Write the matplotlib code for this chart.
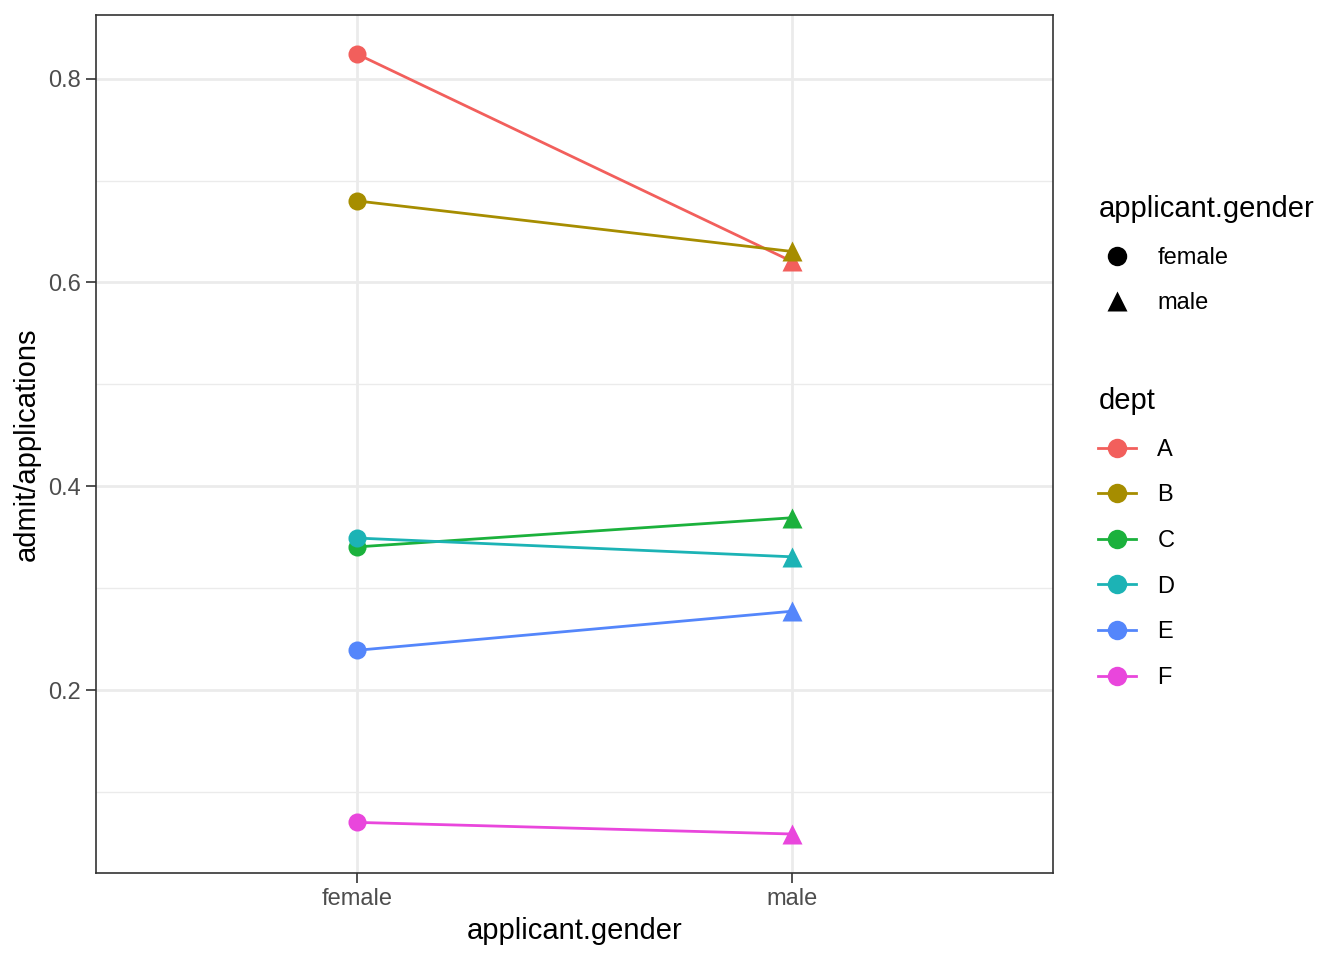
import numpy as np
import matplotlib.pyplot as plt
from matplotlib.lines import Line2D

plt.rcParams['font.family'] = ['Liberation Sans', 'DejaVu Sans']

genders = ["female", "male"]
depts = ["A", "B", "C", "D", "E", "F"]
rate_female = [0.8241, 0.6800, 0.3406, 0.3493, 0.2392, 0.0704]
rate_male = [0.6206, 0.6304, 0.3692, 0.3309, 0.2775, 0.0590]
colors = ["#F25F5C", "#A68D00", "#1BB13C", "#1CB3B5", "#5486FB", "#E946DC"]

fig = plt.figure(figsize=(13.44, 9.6), dpi=100)
ax = fig.add_axes([96 / 1344, 1 - 873 / 960, (1053 - 96) / 1344, (873 - 15) / 960])

xpos = np.arange(len(genders)) + 1
for i, d in enumerate(depts):
    ax.plot(xpos, [rate_female[i], rate_male[i]], "-", color=colors[i], lw=2, zorder=3)
    ax.plot(xpos[0], rate_female[i], "o", color=colors[i], ms=13, mec="none", zorder=4)
    ax.plot(xpos[1], rate_male[i], "^", color=colors[i], ms=15, mec="none", zorder=4)

lo = min(rate_female + rate_male)
hi = max(rate_female + rate_male)
pad = (hi - lo) * 0.05
ax.set_ylim(lo - pad, hi + pad)
ax.set_xlim(0.4, 2.6)

ax.set_xticks(xpos)
ax.set_xticklabels(genders)
ax.set_yticks([0.2, 0.4, 0.6, 0.8])
ax.set_yticklabels(["0.2", "0.4", "0.6", "0.8"])
ax.set_yticks([0.1, 0.3, 0.5, 0.7], minor=True)
ax.grid(True, which="major", color="#EBEBEB", lw=2, zorder=0)
ax.grid(True, which="minor", axis="y", color="#EBEBEB", lw=1, zorder=0)
ax.set_axisbelow(True)
ax.tick_params(axis="both", which="major", length=7, width=1.2, color="#333333",
               labelsize=17, labelcolor="#4D4D4D", pad=4)
ax.tick_params(axis="y", which="minor", length=0)
for s in ax.spines.values():
    s.set_color("#333333")
    s.set_linewidth(1.2)

ax.set_xlabel("applicant.gender", fontsize=21, labelpad=5)
ax.set_ylabel("admit/applications", fontsize=21, labelpad=5)

shape_handles = [
    Line2D([], [], ls="none", marker="o", color="black", ms=14, mec="none"),
    Line2D([], [], ls="none", marker="^", color="black", ms=15, mec="none"),
]
leg1 = fig.legend(shape_handles, genders, title="applicant.gender", loc="upper left",
                  bbox_to_anchor=(1077 / 1344, 1 - 174 / 960), frameon=False,
                  fontsize=17, title_fontsize=21, alignment="left",
                  handlelength=1.6, handletextpad=0.9, labelspacing=1.0)

dept_handles = [Line2D([], [], ls="-", lw=2, marker="o", color=c, ms=14, mec="none")
                for c in colors]
leg2 = fig.legend(dept_handles, depts, title="dept", loc="upper left",
                  bbox_to_anchor=(1077 / 1344, 1 - 366 / 960), frameon=False,
                  fontsize=17, title_fontsize=21, alignment="left",
                  handlelength=1.6, handletextpad=0.9, labelspacing=1.0)

fig.savefig("out.png", dpi=100)
